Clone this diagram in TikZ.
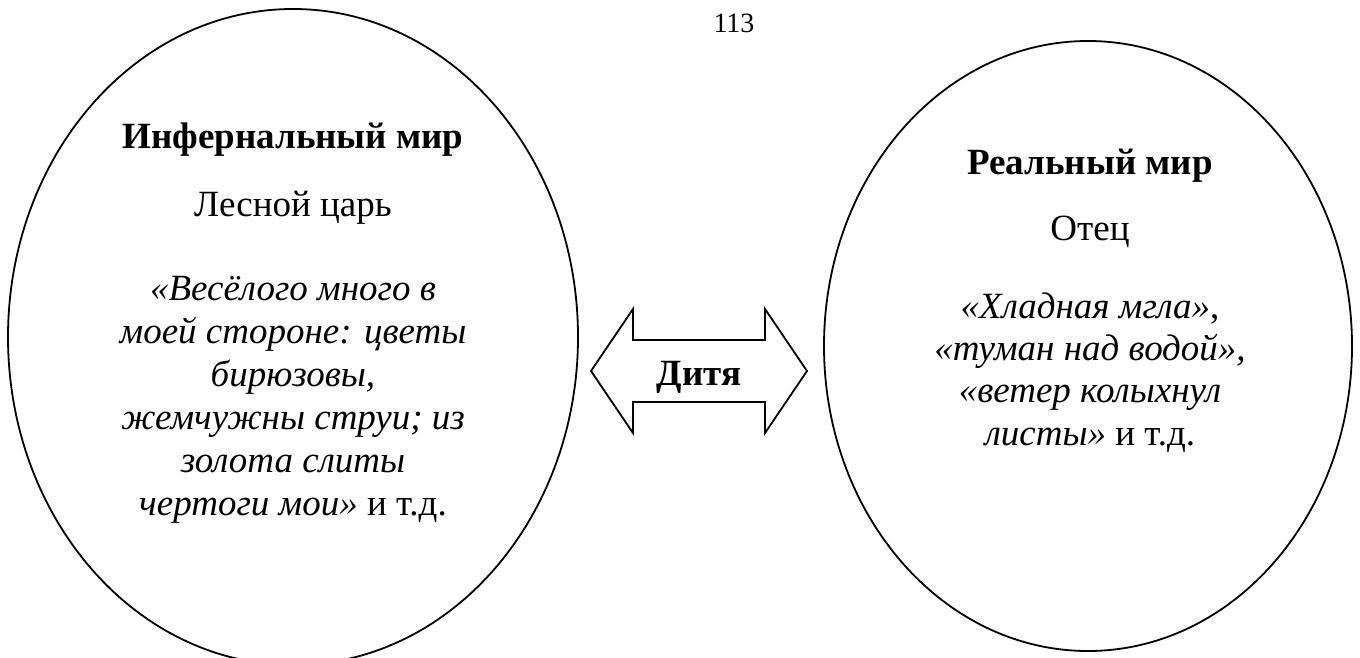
\documentclass[tikz,border=0pt]{standalone}
\usepackage{fontspec}
\setmainfont{Liberation Serif}
\usetikzlibrary{shapes.geometric,calc}
\begin{document}
\begin{tikzpicture}[x=1pt,y=-1pt,
  world/.style={draw, ellipse, line width=1.8pt, inner sep=0pt},
  txt/.style={anchor=base, inner sep=0pt, font=\fontsize{37}{43}\selectfont},
  head/.style={txt, font=\fontsize{37}{43}\selectfont\bfseries},
  quote/.style={txt, font=\fontsize{37}{43}\selectfont\itshape},
  pagenum/.style={anchor=base, inner sep=0pt, font=\fontsize{28}{33}\selectfont},
  link/.style={draw, line width=1.8pt, line join=miter}]
\useasboundingbox (0,0) rectangle (1360,658);
\clip (0,0) rectangle (1360,658);
\fill[white] (0,0) rectangle (1360,658);

% page number
\node[pagenum] (page) at (734,33) {113};

% the two worlds
\node[world, minimum width=570pt, minimum height=656pt] (inferno) at (293,337) {};
\node[world, minimum width=528pt, minimum height=610pt] (real) at (1088,346) {};

% infernal world
\node[head]  (i1) at (293,149) {Инфернальный мир};
\node[txt]   (i2) at (293,216) {Лесной царь};
\node[quote] (i3) at (293,300) {«Весёлого много в};
\node[quote] (i4) at (293,343) {моей стороне: цветы};
\node[quote] (i5) at (293,386) {бирюзовы,};
\node[quote] (i6) at (293,429) {жемчужны струи; из};
\node[quote] (i7) at (293,472) {золота слиты};
\node[txt]   (i8) at (293,515) {\itshape чертоги мои»\upshape{} и т.д.};

% real world
\node[head]  (r1) at (1090,175) {Реальный мир};
\node[txt]   (r2) at (1090,240) {Отец};
\node[txt]   (r3) at (1090,318) {\itshape «Хладная мгла»\upshape,};
\node[quote] (r4) at (1090,360) {«туман над водой»,};
\node[quote] (r5) at (1090,402) {«ветер колыхнул};
\node[txt]   (r6) at (1090,445) {\itshape листы»\upshape{} и т.д.};

% the child between them: a double-headed block arrow
\coordinate (mid) at (699,371);
\path[link] ($(mid)+(-108,0)$) -- ++(42,-62) -- ++(0,31) -- ++(132,0) -- ++(0,-31)
  -- ++(42,62) -- ++(-42,62) -- ++(0,-31) -- ++(-132,0) -- ++(0,31) -- cycle;
\node[head] (child) at (699,385) {Дитя};
\end{tikzpicture}
\end{document}
